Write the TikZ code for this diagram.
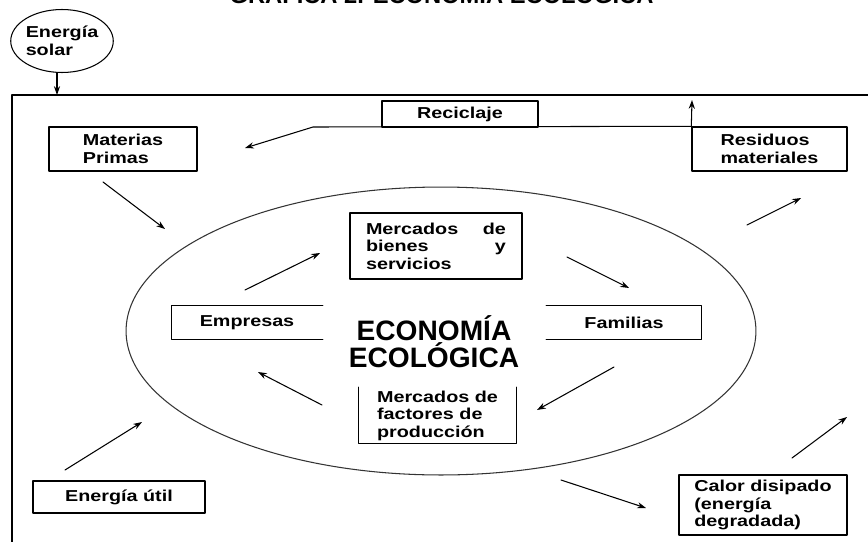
\documentclass[tikz,border=0pt]{standalone}
\usepackage{fontspec}
\setmainfont{Liberation Sans}
\newfontfamily\lbl{Liberation Sans}[FakeStretch=1.25]
\usetikzlibrary{shapes.geometric,arrows.meta}

\tikzset{
  caja/.style={draw,line width=0.8pt,inner sep=0pt,align=left,
    font=\lbl\bfseries\fontsize{9}{10}\selectfont},
  flecha/.style={line width=0.6pt,->},
  linea/.style={line width=0.8pt},
}

\begin{document}
\begin{tikzpicture}[x=0.02cm,y=-0.02cm,line cap=round,line join=round,
  >={Stealth[length=5pt,width=3.5pt]}]
  \clip (0,0) rectangle (868,541);
  % titulo (cortado arriba)
  \node[anchor=base,font=\bfseries\fontsize{13.5}{14}\selectfont] (tit) at (441.5,4)
    {GRÁFICA 2. ECONOMÍA ECOLÓGICA};
  % marco
  \draw[linea] (12,560) -- (12,95) -- (880,95);
  \coordinate (mc) at (57,95);
  \node[caja,ellipse,line width=0.6pt,minimum width=2.02cm,minimum height=1.26cm] (sol) at (62,41) {Energía\\solar};
  \draw[flecha] (sol.south -| mc) -- (mc);

  % elipse central
  \node[draw=black!80,ellipse,line width=0.6pt,inner sep=0pt,
    minimum width=12.6cm,minimum height=5.76cm] (eco) at (441,331) {};
  \node[align=center,font=\bfseries\fontsize{16}{15.5}\selectfont] (txt) at (434,342) {ECONOMÍA\\ECOLÓGICA};

  % cajas
  \node[caja,minimum width=3.12cm,minimum height=0.52cm] (rec) at (460,114) {Reciclaje};
  \node[caja,minimum width=2.96cm,minimum height=0.88cm] (mat) at (123,149) {Materias\\Primas};
  \node[caja,minimum width=3.1cm,minimum height=0.88cm] (res) at (769.5,149) {Residuos\\materiales};
  \node[caja,minimum width=3.44cm,minimum height=1.32cm,text width=2.8cm] (bie) at (436,246)
    {Mercados\hfill de\\bienes\hfill y\\servicios};
  \node[caja,draw=none,minimum width=3cm,minimum height=0.66cm] (emp) at (247,322.5) {Empresas};
  \node[caja,draw=none,minimum width=3.08cm,minimum height=0.66cm] (fam) at (624,322.5) {Familias};
  \node[caja,draw=none,minimum width=3.14cm,minimum height=1.1cm] (fac) at (437.5,415.5)
    {Mercados de\\factores de\\producción};
  \node[caja,minimum width=3.44cm,minimum height=0.64cm] (uti) at (119,497) {Energía útil};
  \node[caja,minimum width=3.36cm,minimum height=1.2cm] (cal) at (763,505)
    {Calor disipado\\(energía\\degradada)};

  % lados visibles de las cajas abiertas
  \draw[linea] (emp.north east) -- (emp.north west) -- (emp.south west) -- (emp.south east);
  \draw[linea] (fam.north west) -- (fam.north east) -- (fam.south east) -- (fam.south west);
  \draw[linea] (fac.north west) -- (fac.south west) -- (fac.south east) -- (fac.north east);

  % extremos de las flechas
  \coordinate (mp1) at (103,182); \coordinate (mp2) at (165,229);
  \coordinate (rc1) at (313,127); \coordinate (rc2) at (245,148);
  \coordinate (rs) at (692,100);
  \coordinate (eb1) at (245,290); \coordinate (eb2) at (320,253);
  \coordinate (bf1) at (567,257); \coordinate (bf2) at (629,288);
  \coordinate (rm1) at (747,225); \coordinate (rm2) at (801,198);
  \coordinate (ff1) at (614,367); \coordinate (ff2) at (537,410);
  \coordinate (fe1) at (322,405); \coordinate (fe2) at (258,372);
  \coordinate (eu1) at (65,470); \coordinate (eu2) at (142,422);
  \coordinate (cd1) at (561,480); \coordinate (cd2) at (646,508);
  \coordinate (co1) at (792,458); \coordinate (co2) at (847,417);

  % flechas
  \draw[flecha] (res.north west) -- (rc1) -- (rc2);
  \draw[flecha] (res.north west) -- (rs);
  \draw[flecha] (mp1) -- (mp2);
  \draw[flecha] (eb1) -- (eb2);
  \draw[flecha] (bf1) -- (bf2);
  \draw[flecha] (rm1) -- (rm2);
  \draw[flecha] (ff1) -- (ff2);
  \draw[flecha] (fe1) -- (fe2);
  \draw[flecha] (eu1) -- (eu2);
  \draw[flecha] (cd1) -- (cd2);
  \draw[flecha] (co1) -- (co2);
\end{tikzpicture}
\end{document}
